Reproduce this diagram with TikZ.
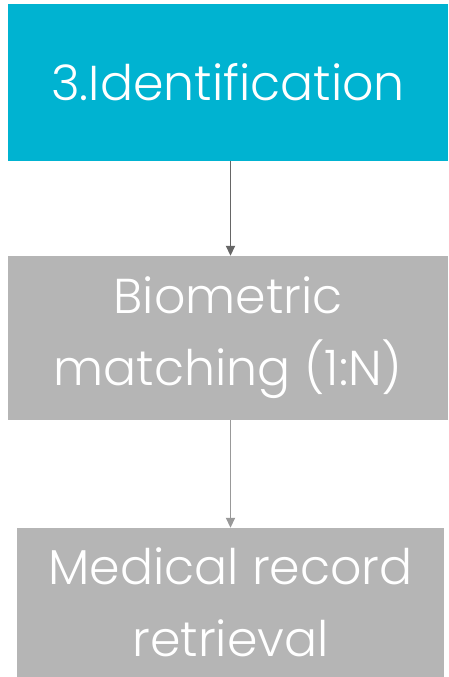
\documentclass[tikz,border=0pt]{standalone}
\usepackage{fontspec}
\setmainfont{Poppins Light}
\usetikzlibrary{arrows.meta}

\definecolor{stepcyan}{HTML}{00B3D1}
\definecolor{stepgray}{HTML}{B5B5B5}

\tikzset{
  box/.style={fill=#1, text=white, align=center, inner sep=0pt,
    font=\fontsize{49}{72}\selectfont},
  link/.style={-{Triangle[length=10pt,width=9pt]}, line width=1.8pt}
}

\begin{document}
\begin{tikzpicture}[x=1pt,y=1pt]
  \path[use as bounding box] (0,0) rectangle (448,677);

  \node[box=stepcyan, minimum width=440, minimum height=157] (ident) at (228,594.5) {3.Identification};
  \node[box=stepgray, minimum width=440, minimum height=164] (match) at (228,339) {Biometric\\matching (1:N)};
  \node[box=stepgray, minimum width=427, minimum height=149] (record) at (230.5,74.5) {Medical record\\retrieval};

  \draw[link, draw=black!60] (ident.south -| record.north) -- (match.north -| record.north);
  \draw[link, draw=black!40] (match.south -| record.north) -- (record.north);

\end{tikzpicture}
\end{document}
